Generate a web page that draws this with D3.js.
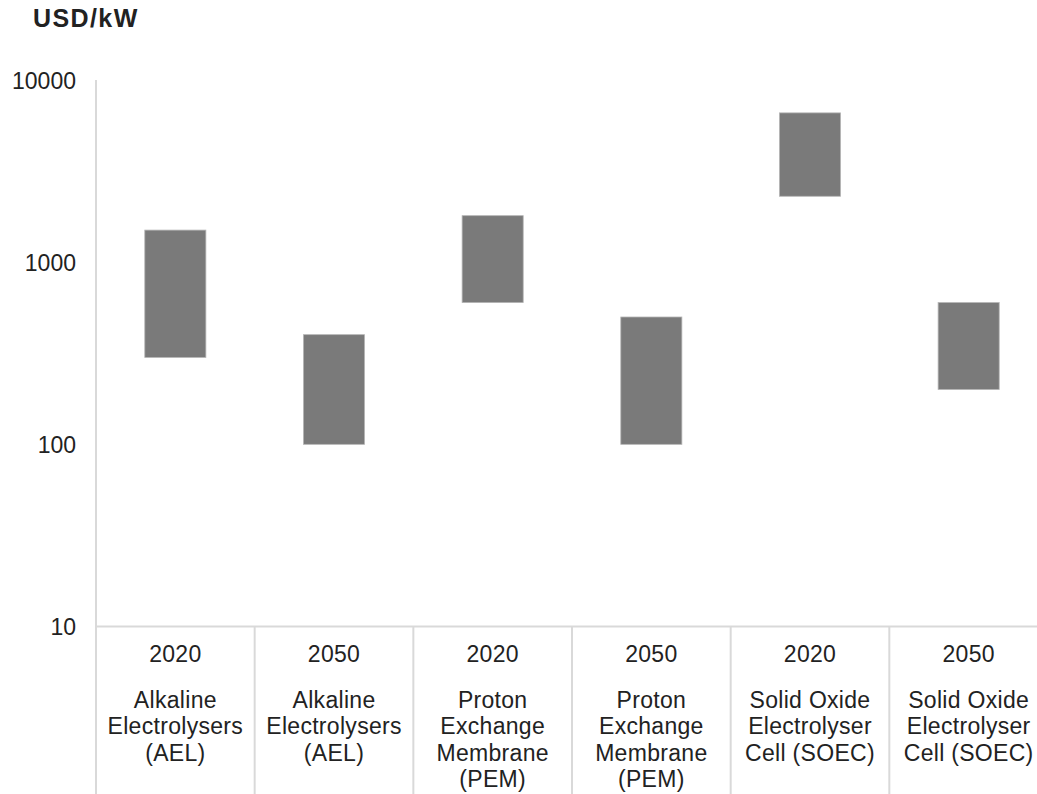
<!DOCTYPE html>
<html>
<head>
<meta charset="utf-8">
<script src="https://cdn.jsdelivr.net/npm/d3@7"></script>
<style>
  html, body { margin: 0; padding: 0; background: #ffffff; }
  svg { display: block; }
  text { font-family: "Liberation Sans", Arial, sans-serif; fill: #222222; }
</style>
</head>
<body>
<svg id="chart" width="1037" height="794"></svg>
<script>
// Electrolyser capital cost ranges (USD/kW), low and high end per technology and year
const categories = ["AEL 2020", "AEL 2050", "PEM 2020", "PEM 2050", "SOEC 2020", "SOEC 2050"];
const years = ["2020", "2050", "2020", "2050", "2020", "2050"];
const techLabels = [
  ["Alkaline", "Electrolysers", "(AEL)"],
  ["Alkaline", "Electrolysers", "(AEL)"],
  ["Proton", "Exchange", "Membrane", "(PEM)"],
  ["Proton", "Exchange", "Membrane", "(PEM)"],
  ["Solid Oxide", "Electrolyser", "Cell (SOEC)"],
  ["Solid Oxide", "Electrolyser", "Cell (SOEC)"]
];
const lowValues = [300, 100, 600, 100, 2300, 200];
const highValues = [1500, 400, 1800, 500, 6600, 600];
const yTicks = [10, 100, 1000, 10000];
const unitLabel = "USD/kW";

const svg = d3.select("#chart");

const plotLeft = 96, plotRight = 1048, plotTop = 80, plotBottom = 626.5;

const x = d3.scaleBand().domain(categories).range([plotLeft, plotRight]).padding(0);
const y = d3.scaleLog().domain([10, 10000]).range([plotBottom, plotTop]);
const barWidth = x.bandwidth() * 0.385;

// Unit label
svg.append("text")
  .attr("x", 33).attr("y", 27)
  .style("font-weight", "bold")
  .style("font-size", "25px")
  .style("letter-spacing", "1.4px")
  .text(unitLabel);

// Y axis (log scale)
const yAxis = d3.axisLeft(y).tickValues(yTicks).tickFormat(d3.format("d")).tickSize(0).tickPadding(20);
const gy = svg.append("g").attr("transform", `translate(${plotLeft},0)`).call(yAxis);
gy.select(".domain").remove();
gy.selectAll("text")
  .style("font-size", "23px")
  .style("font-family", "'Liberation Sans', Arial, sans-serif")
  .attr("fill", "#222222")
  .attr("dy", "0.35em");

// Vertical axis line running down past the baseline
svg.append("line")
  .attr("x1", plotLeft).attr("x2", plotLeft)
  .attr("y1", plotTop).attr("y2", 794)
  .attr("stroke", "#d9d9d9").attr("stroke-width", 2);

// Baseline
svg.append("line")
  .attr("x1", plotLeft).attr("x2", plotRight)
  .attr("y1", plotBottom).attr("y2", plotBottom)
  .attr("stroke", "#d9d9d9").attr("stroke-width", 2);

// Category separators
svg.append("g").selectAll("line")
  .data(categories.slice(1))
  .join("line")
  .attr("x1", d => x(d)).attr("x2", d => x(d))
  .attr("y1", plotBottom).attr("y2", 794)
  .attr("stroke", "#d9d9d9").attr("stroke-width", 2);

// Floating range bars
svg.append("g").selectAll("rect")
  .data(categories)
  .join("rect")
  .attr("x", d => x(d) + (x.bandwidth() - barWidth) / 2)
  .attr("width", barWidth)
  .attr("y", (d, i) => y(highValues[i]))
  .attr("height", (d, i) => y(lowValues[i]) - y(highValues[i]))
  .attr("fill", "#7a7a7a")
  .attr("stroke", "#b5b5b5")
  .attr("stroke-width", 0.8);

// Category labels: year then technology name
const labels = svg.append("g").selectAll("g")
  .data(categories)
  .join("g")
  .attr("transform", d => `translate(${x(d) + x.bandwidth() / 2},0)`);

labels.append("text")
  .attr("text-anchor", "middle")
  .attr("y", 662)
  .style("font-size", "23px")
  .style("letter-spacing", "0.3px")
  .text((d, i) => years[i]);

labels.each(function(d, i) {
  const t = d3.select(this).append("text")
    .attr("text-anchor", "middle")
    .style("font-size", "23px")
    .style("letter-spacing", "0.3px");
  techLabels[i].forEach((line, k) => {
    t.append("tspan").attr("x", 0).attr("y", 707.5 + k * 26.5).text(line);
  });
});
</script>
</body>
</html>
